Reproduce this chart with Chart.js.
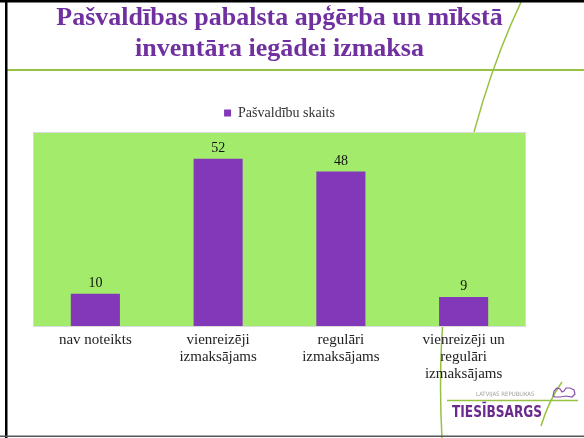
<!DOCTYPE html>
<html>
<head>
<meta charset="utf-8">
<script src="https://cdn.jsdelivr.net/npm/chart.js@4/dist/chart.umd.min.js"></script>
<style>
  html, body { margin: 0; padding: 0; background: #fff; }
  canvas { display: block; }
</style>
</head>
<body>
<canvas id="chart" width="584" height="438"></canvas>
<script>
// Data
const titleLines = ['Pašvaldības pabalsta apģērba un mīkstā', 'inventāra iegādei izmaksa'];
const seriesLabel = 'Pašvaldību skaits';
const categories = [
  ['nav noteikts'],
  ['vienreizēji', 'izmaksājams'],
  ['regulāri', 'izmaksājams'],
  ['vienreizēji un', 'regulāri', 'izmaksājams']
];
const values = [10, 52, 48, 9];
const yMax = 60;

// Look
const TITLE_PURPLE = '#7030A0';
const BAR_PURPLE = '#8238B9';
const PLOT_GREEN = '#A3EC6B';
const RULE_GREEN = '#95C341';
const SERIF = '"Liberation Serif", "Times New Roman", serif';
const NARROW = '"Liberation Sans Narrow", "DejaVu Sans Condensed", sans-serif';

// white slide, green rules and the plot area fill
const slideBackground = {
  id: 'slideBackground',
  beforeDraw(chart) {
    const { ctx, chartArea: a, width, height } = chart;
    ctx.save();
    ctx.fillStyle = '#fff';
    ctx.fillRect(0, 0, width, height);

    ctx.strokeStyle = RULE_GREEN;
    ctx.lineWidth = 2;
    ctx.beginPath();
    ctx.moveTo(7, 70);
    ctx.lineTo(width, 70);
    ctx.stroke();

    ctx.lineWidth = 1.5;
    ctx.beginPath();
    ctx.moveTo(522, 0);
    ctx.bezierCurveTo(460, 130, 434, 300, 442, height);
    ctx.stroke();

    ctx.fillStyle = PLOT_GREEN;
    ctx.fillRect(a.left, a.top, a.right - a.left, a.bottom - a.top);
    ctx.strokeStyle = '#dadada';
    ctx.lineWidth = 1;
    ctx.strokeRect(a.left - 0.5, a.top - 0.5, a.right - a.left + 1, a.bottom - a.top + 1);
    ctx.restore();
  }
};

// numbers above the bars
const valueLabels = {
  id: 'valueLabels',
  afterDatasetsDraw(chart) {
    const { ctx } = chart;
    const meta = chart.getDatasetMeta(0);
    ctx.save();
    ctx.font = '14px ' + SERIF;
    ctx.fillStyle = '#111';
    ctx.textAlign = 'center';
    ctx.textBaseline = 'alphabetic';
    meta.data.forEach((bar, i) => ctx.fillText(String(values[i]), bar.x, bar.y - 7));
    ctx.restore();
  }
};

// logo in the corner and the slide frame
const slideFrame = {
  id: 'slideFrame',
  afterDraw(chart) {
    const { ctx, width, height } = chart;
    ctx.save();

    ctx.fillStyle = '#a0a0a0';
    ctx.font = '6px ' + NARROW;
    ctx.textAlign = 'left';
    ctx.textBaseline = 'alphabetic';
    ctx.fillText('LATVIJAS REPUBLIKAS', 476, 396);

    ctx.strokeStyle = RULE_GREEN;
    ctx.lineWidth = 1.5;
    ctx.beginPath();
    ctx.moveTo(447, 400.5);
    ctx.lineTo(578, 400.5);
    ctx.stroke();
    ctx.beginPath();
    ctx.moveTo(562, 382);
    ctx.quadraticCurveTo(549, 400, 541, 426);
    ctx.stroke();

    // Latvia outline
    ctx.strokeStyle = '#8A4FAE';
    ctx.lineWidth = 1.2;
    ctx.beginPath();
    const shape = [[553, 396], [554, 391], [557, 388], [560, 389], [562, 392], [564, 391], [566, 388],
      [570, 388], [574, 390], [575, 394], [572, 397], [566, 396], [560, 397], [555, 397]];
    shape.forEach(([x, y], i) => i ? ctx.lineTo(x, y) : ctx.moveTo(x, y));
    ctx.closePath();
    ctx.stroke();

    ctx.fillStyle = '#6A2A8E';
    ctx.font = 'bold 16px ' + NARROW;
    const word = 'TIESĪBSARGS';
    const w = ctx.measureText(word).width;
    ctx.save();
    ctx.translate(452, 417);
    ctx.scale(90 / w, 1);
    ctx.fillText(word, 0, 0);
    ctx.restore();

    ctx.fillStyle = '#000';
    ctx.fillRect(0, 0, width, 2.5);
    ctx.fillRect(5, 0, 2.5, height);
    ctx.fillStyle = '#555';
    ctx.fillRect(0, height - 2.5, width, 1.5);
    ctx.restore();
  }
};

new Chart(document.getElementById('chart'), {
  type: 'bar',
  data: {
    labels: categories,
    datasets: [{
      label: seriesLabel,
      data: values,
      backgroundColor: BAR_PURPLE,
      borderWidth: 0,
      barPercentage: 0.4,
      categoryPercentage: 1
    }]
  },
  options: {
    responsive: false,
    animation: false,
    layout: { padding: { left: 34, right: 59, top: 0, bottom: 0 } },
    plugins: {
      title: {
        display: true,
        text: titleLines,
        color: TITLE_PURPLE,
        font: { family: SERIF, size: 26, weight: 'bold', lineHeight: 31 / 26 },
        padding: { top: 3, bottom: 31 }
      },
      legend: {
        display: true,
        labels: { color: '#333', font: { family: SERIF, size: 14 }, boxWidth: 7, boxHeight: 7, padding: 10 }
      },
      tooltip: { enabled: false }
    },
    scales: {
      x: {
        grid: { display: false, drawTicks: false },
        border: { display: false },
        ticks: {
          color: '#222',
          font: { family: SERIF, size: 15, lineHeight: 17 / 15 },
          padding: 6,
          maxRotation: 0,
          autoSkip: false
        },
        afterFit: (s) => { s.height = 112; }
      },
      xTop: {
        type: 'category',
        position: 'top',
        grid: { display: false, drawTicks: false },
        border: { display: false },
        ticks: { display: false },
        afterFit: (s) => { s.height = 3; }
      },
      y: { display: false, min: 0, max: yMax }
    }
  },
  plugins: [slideBackground, valueLabels, slideFrame]
});
</script>
</body>
</html>
